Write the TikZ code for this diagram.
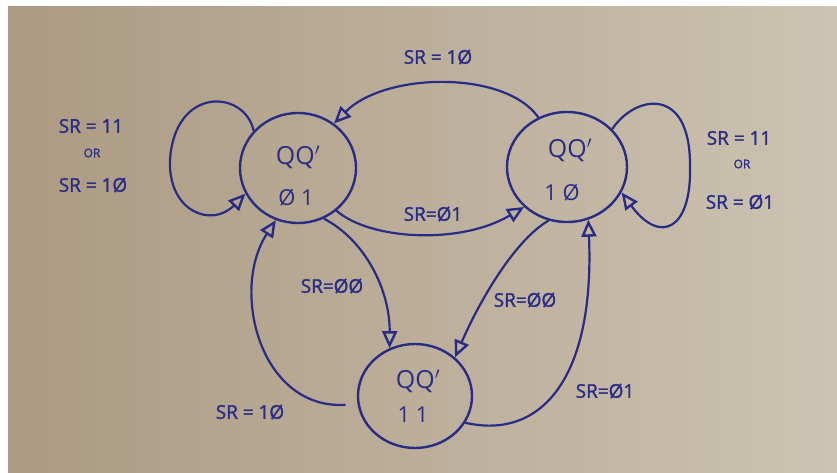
\documentclass[tikz,border=0pt]{standalone}
\usepackage{fontspec}
\setmainfont{Open Sans}
\newfontfamily\hand{Open Sans}[FakeBold=1.5]
\usetikzlibrary{arrows.meta,shapes.geometric}
\definecolor{ink}{RGB}{40,44,135}
\definecolor{paperL}{RGB}{172,154,130}
\definecolor{paperR}{RGB}{204,195,178}
\begin{document}
\begin{tikzpicture}[x=1bp,y=-1bp,
  state/.style={ellipse,draw=ink,line width=2.4bp,minimum width=116bp,minimum height=110bp,inner sep=0pt},
  tip/.tip={Triangle[open,length=17bp,width=15bp,line width=2.4bp]},
  edge/.style={draw=ink,line width=2.2bp,-tip},
  lbl/.style={text=ink,inner sep=0pt,font=\hand\fontsize{19}{19}\selectfont},
  small/.style={text=ink,inner sep=0pt,font=\hand\fontsize{12}{12}\selectfont},
  st/.style={text=ink,inner sep=0pt,font=\fontsize{25}{25}\selectfont},
  sd/.style={text=ink,inner sep=0pt,font=\fontsize{22}{22}\selectfont}]
\useasboundingbox (0,0) rectangle (837,473);
% paper sheet on a white ground
\fill[white] (0,0) rectangle (837,473);
\shade[left color=paperL,right color=paperR] (8,7) rectangle (837,473);

% states
\node[state] (A) at (298,168) {};
\node[st] (Aq) at (298,157) {QQ$'$};
\node[sd] (Ab) at (296,198) {Ø 1};
\node[state,minimum width=120bp] (B) at (567,167) {};
\node[st] (Bq) at (570,150) {QQ$'$};
\node[sd] (Bb) at (562,193) {1 Ø};
\node[state,minimum width=114bp,minimum height=104bp] (C) at (415,396) {};
\node[st] (Cq) at (418,381) {QQ$'$};
\node[sd] (Cb) at (413,415) {1 1};

% self loops
\draw[edge] (A.140) .. controls (245,90) and (175,85) .. (170,160)
  .. controls (168,212) and (212,228) .. (A.206);
\draw[edge] (B.40) .. controls (635,95) and (690,85) .. (690,165)
  .. controls (692,230) and (660,245) .. (B.-25);

% transitions
\draw[edge] (B.120) .. controls (505,70) and (385,72) .. (A.51);
\draw[edge] (A.312) .. controls (370,240) and (460,245) .. (B.223);
\draw[edge] (A.297) .. controls (365,240) and (390,290) .. (C.118);
\draw[edge,shorten <=12bp] (C.188) .. controls (260,410) and (230,290) .. (A.247);
\draw[edge] (B.251) .. controls (515,240) and (480,300) .. (C.44);
\draw[edge] (C.-28) .. controls (540,440) and (595,380) .. (B.-68);

% conditions
\node[lbl] (t1) at (438,57) {SR = 1Ø};
\node[lbl] (t2) at (91,126) {SR = 11};
\node[small] (t3) at (92,153) {OR};
\node[lbl] (t4) at (93,185) {SR = 1Ø};
\node[lbl] (t5) at (739,138) {SR = 11};
\node[small] (t6) at (742,164) {OR};
\node[lbl] (t7) at (740,202) {SR = Ø1};
\node[lbl] (t8) at (433,214) {SR=Ø1};
\node[lbl] (t9) at (332,286) {SR=ØØ};
\node[lbl] (t10) at (525,300) {SR=ØØ};
\node[lbl] (t11) at (250,412) {SR = 1Ø};
\node[lbl] (t12) at (605,391) {SR=Ø1};
\end{tikzpicture}
\end{document}
